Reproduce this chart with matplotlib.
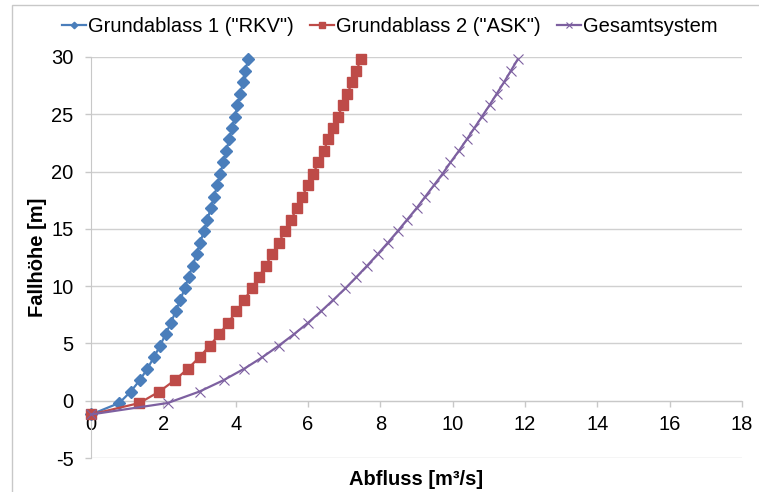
import matplotlib
matplotlib.use("Agg")
import matplotlib.pyplot as plt
from matplotlib.patches import Rectangle

plt.rcParams['font.family'] = ['Liberation Sans', 'DejaVu Sans']
plt.rcParams['axes.unicode_minus'] = False

# Fallhöhe [m]
h = [-1.2, -0.2, 0.8, 1.8, 2.8, 3.8, 4.8, 5.8, 6.8, 7.8, 8.8, 9.8, 10.8, 11.8,
     12.8, 13.8, 14.8, 15.8, 16.8, 17.8, 18.8, 19.8, 20.8, 21.8, 22.8, 23.8,
     24.8, 25.8, 26.8, 27.8, 28.8, 29.8]

# Abfluss [m3/s]
q_rkv = [0, 0.78, 1.10, 1.35, 1.56, 1.74, 1.91, 2.06, 2.21, 2.34, 2.47, 2.59,
         2.70, 2.81, 2.92, 3.02, 3.12, 3.22, 3.31, 3.40, 3.49, 3.57, 3.66,
         3.74, 3.82, 3.90, 3.98, 4.05, 4.13, 4.20, 4.27, 4.34]
q_ask = [0, 1.34, 1.89, 2.32, 2.68, 3.00, 3.28, 3.55, 3.79, 4.02, 4.24, 4.44,
         4.64, 4.83, 5.01, 5.19, 5.36, 5.53, 5.69, 5.84, 5.99, 6.14, 6.29,
         6.43, 6.56, 6.70, 6.83, 6.96, 7.09, 7.22, 7.34, 7.46]
q_ges = [0, 2.12, 3.00, 3.67, 4.24, 4.74, 5.19, 5.61, 6.00, 6.36, 6.70, 7.03,
         7.34, 7.64, 7.93, 8.21, 8.48, 8.74, 9.00, 9.24, 9.48, 9.72, 9.94,
         10.17, 10.39, 10.60, 10.81, 11.02, 11.22, 11.42, 11.61, 11.80]

labels = ['Grundablass 1 ("RKV")', 'Grundablass 2 ("ASK")', 'Gesamtsystem']

fig = plt.figure(figsize=(7.59, 4.92), dpi=100)
ax = fig.add_axes([91 / 759, 1 - 458 / 492, (742 - 91) / 759, (458 - 57) / 492])

# outer chart frame
fig.patches.append(Rectangle((12 / 759, -0.1), 1.2, 1 - 5 / 492 + 0.1,
                             transform=fig.transFigure, fill=False,
                             edgecolor='#c8c8c8', lw=1))

ax.plot(q_rkv, h, color='#4a7ebb', lw=1.6, marker='D', ms=6,
        label=labels[0], clip_on=False, zorder=3)
ax.plot(q_ask, h, color='#be4b48', lw=1.6, marker='s', ms=7,
        label=labels[1], clip_on=False, zorder=3)
ax.plot(q_ges, h, color='#7d60a0', lw=1.6, marker='x', ms=7, mew=0.8,
        label=labels[2], clip_on=False, zorder=3)

ax.set_xlim(0, 18)
ax.set_ylim(-5, 30)
ax.set_xticks(range(0, 19, 2))
ax.set_yticks(range(-5, 31, 5))

ax.grid(axis='y', color='#d0d0d0', lw=1)
ax.set_axisbelow(True)
for s in ['top', 'right']:
    ax.spines[s].set_visible(False)
ax.spines['left'].set_color('#c8c8c8')
ax.spines['bottom'].set_color('#c8c8c8')
ax.spines['bottom'].set_position(('data', 0))

ax.tick_params(axis='both', colors='#c8c8c8', labelcolor='black',
               labelsize=14.5, length=4.5, width=1)
ax.tick_params(axis='y', pad=8)
ax.tick_params(axis='x', pad=6)

ax.set_xlabel('Abfluss [m³/s]', fontsize=14.5, fontweight='bold')
ax.set_ylabel('Fallhöhe [m]', fontsize=14.5, fontweight='bold')
ax.xaxis.set_label_coords(0.5, -0.03)
ax.yaxis.set_label_coords(-0.068, 0.5)

fig.legend(loc='upper center', bbox_to_anchor=(0.514, 1.003), ncol=3,
           frameon=False, fontsize=14.5, handlelength=1.2, handletextpad=0.1,
           columnspacing=0.8, markerscale=0.55)

fig.savefig('out.png', dpi=100)
